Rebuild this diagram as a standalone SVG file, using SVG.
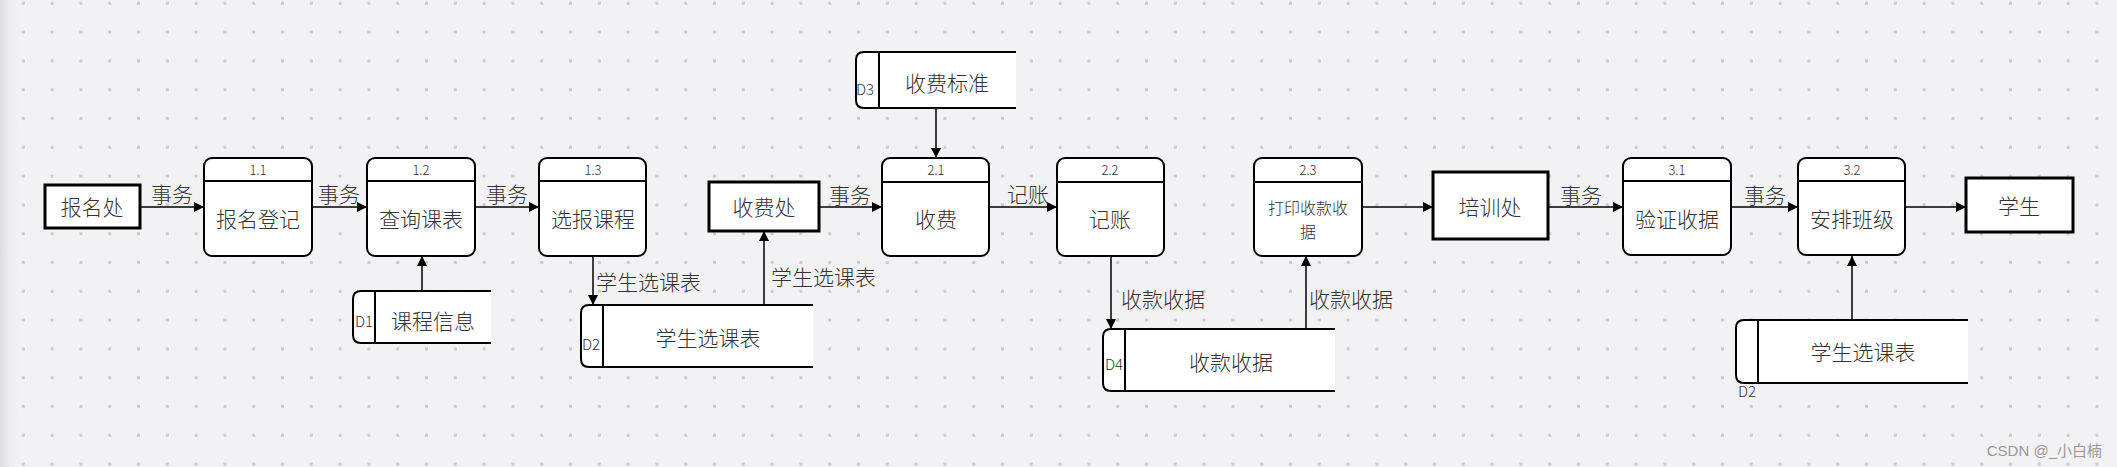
<svg xmlns="http://www.w3.org/2000/svg" width="2117" height="467" viewBox="0 0 2117 467">
<defs>
<pattern id="dots" patternUnits="userSpaceOnUse" x="21.8" y="1.8" width="28.8" height="28.8">
<rect x="0" y="0" width="3" height="3" fill="#cbcbcf"/>
</pattern>
<linearGradient id="lshade" x1="0" y1="0" x2="1" y2="0">
<stop offset="0" stop-color="#dcdcde" stop-opacity="1"/>
<stop offset="1" stop-color="#f2f2f4" stop-opacity="0"/>
</linearGradient>
<marker id="arr" viewBox="0 0 10 10" refX="10" refY="5" markerWidth="10" markerHeight="10" markerUnits="userSpaceOnUse" orient="auto">
<path d="M0,0 L10,5 L0,10 z" fill="#000"/>
</marker>
<style>
text{font-family:"Noto Sans CJK SC","Noto Sans",sans-serif;fill:#333;font-weight:300;}
.proc rect{fill:#fff;stroke:#000;stroke-width:2;}
.proc line{stroke:#000;stroke-width:2;}
.num{font-size:13px;text-anchor:middle;}
.big{font-size:21px;text-anchor:middle;dominant-baseline:central;}
.small{font-size:16px;text-anchor:middle;dominant-baseline:central;}
.ent rect{fill:#fff;stroke:#000;stroke-width:3;}
.store path{fill:#fff;stroke:#000;stroke-width:2;}
.store line{stroke:#000;stroke-width:2;}
.sid{font-size:15px;dominant-baseline:central;}
.lbl{font-size:21px;dominant-baseline:central;}
.lblc{font-size:21px;text-anchor:middle;dominant-baseline:central;}
#connectors line{stroke:#000;stroke-width:1.5;marker-end:url(#arr);}
</style>
</defs>
<rect width="2117" height="467" fill="#f2f2f4"/>
<rect width="2117" height="467" fill="url(#dots)"/>
<rect width="22" height="467" fill="url(#lshade)"/>

<g id="connectors">
<line x1="141" y1="207" x2="204" y2="207"/>
<line x1="312" y1="207" x2="367" y2="207"/>
<line x1="475" y1="207" x2="539" y2="207"/>
<line x1="422" y1="291" x2="422" y2="256"/>
<line x1="593" y1="256" x2="593" y2="305"/>
<line x1="764" y1="305" x2="764" y2="231"/>
<line x1="819" y1="207" x2="882" y2="207"/>
<line x1="936" y1="108" x2="936" y2="158"/>
<line x1="989" y1="207" x2="1057" y2="207"/>
<line x1="1111" y1="256" x2="1111" y2="329"/>
<line x1="1306" y1="329" x2="1306" y2="256"/>
<line x1="1362" y1="207" x2="1433" y2="207"/>
<line x1="1548" y1="207" x2="1623" y2="207"/>
<line x1="1731" y1="207" x2="1798" y2="207"/>
<line x1="1905" y1="207" x2="1966" y2="207"/>
<line x1="1852" y1="320" x2="1852" y2="256"/>
<text class="lblc" x="172" y="193">事务</text>
<text class="lblc" x="339" y="193">事务</text>
<text class="lblc" x="507" y="193">事务</text>
<text class="lbl" x="596" y="281">学生选课表</text>
<text class="lbl" x="771" y="276">学生选课表</text>
<text class="lblc" x="850" y="194">事务</text>
<text class="lblc" x="1028" y="193">记账</text>
<text class="lbl" x="1121" y="298">收款收据</text>
<text class="lbl" x="1309" y="298">收款收据</text>
<text class="lblc" x="1581" y="194">事务</text>
<text class="lblc" x="1765" y="194">事务</text>
</g>

<g id="e-baomingchu" class="ent"><rect x="45" y="185" width="95" height="43"/><text class="big" x="92" y="206">报名处</text></g>
<g id="e-shoufeichu" class="ent"><rect x="709" y="182" width="110" height="49"/><text class="big" x="764" y="206">收费处</text></g>
<g id="e-peixunchu" class="ent"><rect x="1433" y="172" width="115" height="67"/><text class="big" x="1490" y="206">培训处</text></g>
<g id="e-xuesheng" class="ent"><rect x="1966" y="178" width="107" height="54"/><text class="big" x="2019" y="205">学生</text></g>

<g id="p1-1" class="proc"><rect x="204" y="158" width="108" height="98" rx="8"/><line x1="204" y1="181" x2="312" y2="181"/><text class="num" x="258" y="175">1.1</text><text class="big" x="258" y="218">报名登记</text></g>
<g id="p1-2" class="proc"><rect x="367" y="158" width="108" height="98" rx="8"/><line x1="367" y1="181" x2="475" y2="181"/><text class="num" x="421" y="175">1.2</text><text class="big" x="421" y="218">查询课表</text></g>
<g id="p1-3" class="proc"><rect x="539" y="158" width="107" height="98" rx="8"/><line x1="539" y1="181" x2="646" y2="181"/><text class="num" x="593" y="175">1.3</text><text class="big" x="593" y="218">选报课程</text></g>
<g id="p2-1" class="proc"><rect x="882" y="158" width="107" height="98" rx="8"/><line x1="882" y1="182" x2="989" y2="182"/><text class="num" x="936" y="175">2.1</text><text class="big" x="936" y="218">收费</text></g>
<g id="p2-2" class="proc"><rect x="1057" y="158" width="107" height="98" rx="8"/><line x1="1057" y1="182" x2="1164" y2="182"/><text class="num" x="1110" y="175">2.2</text><text class="big" x="1110" y="218">记账</text></g>
<g id="p2-3" class="proc"><rect x="1254" y="158" width="108" height="98" rx="8"/><line x1="1254" y1="182" x2="1362" y2="182"/><text class="num" x="1308" y="175">2.3</text><text class="small" x="1308" y="207">打印收款收</text><text class="small" x="1308" y="231">据</text></g>
<g id="p3-1" class="proc"><rect x="1623" y="158" width="108" height="97" rx="8"/><line x1="1623" y1="181" x2="1731" y2="181"/><text class="num" x="1677" y="175">3.1</text><text class="big" x="1677" y="218">验证收据</text></g>
<g id="p3-2" class="proc"><rect x="1798" y="158" width="107" height="97" rx="8"/><line x1="1798" y1="181" x2="1905" y2="181"/><text class="num" x="1852" y="175">3.2</text><text class="big" x="1852" y="218">安排班级</text></g>

<g id="d1" class="store"><path d="M491,291 L361,291 Q353,291 353,299 L353,335 Q353,343 361,343 L491,343"/><line x1="375" y1="291" x2="375" y2="343"/><text class="sid" x="355" y="320">D1</text><text class="big" x="433" y="320">课程信息</text></g>
<g id="d2a" class="store"><path d="M813,305 L589,305 Q581,305 581,313 L581,359 Q581,367 589,367 L813,367"/><line x1="603" y1="305" x2="603" y2="367"/><text class="sid" x="582" y="343">D2</text><text class="big" x="708" y="337">学生选课表</text></g>
<g id="d3" class="store"><path d="M1016,52 L864,52 Q856,52 856,60 L856,100 Q856,108 864,108 L1016,108"/><line x1="879" y1="52" x2="879" y2="108"/><text class="sid" x="856" y="88">D3</text><text class="big" x="947" y="82">收费标准</text></g>
<g id="d4" class="store"><path d="M1335,329 L1111,329 Q1103,329 1103,337 L1103,383 Q1103,391 1111,391 L1335,391"/><line x1="1125" y1="329" x2="1125" y2="391"/><text class="sid" x="1105" y="363">D4</text><text class="big" x="1231" y="361">收款收据</text></g>
<g id="d2b" class="store"><path d="M1968,320 L1744,320 Q1736,320 1736,328 L1736,375 Q1736,383 1744,383 L1968,383"/><line x1="1758" y1="320" x2="1758" y2="383"/><text class="sid" x="1738" y="390">D2</text><text class="big" x="1863" y="351">学生选课表</text></g>

<text x="2102" y="450" style="font-size:15px;fill:#999;font-weight:400;text-anchor:end;dominant-baseline:central;font-family:'Liberation Sans','Noto Sans CJK SC',sans-serif">CSDN @_小白楠</text>
</svg>
